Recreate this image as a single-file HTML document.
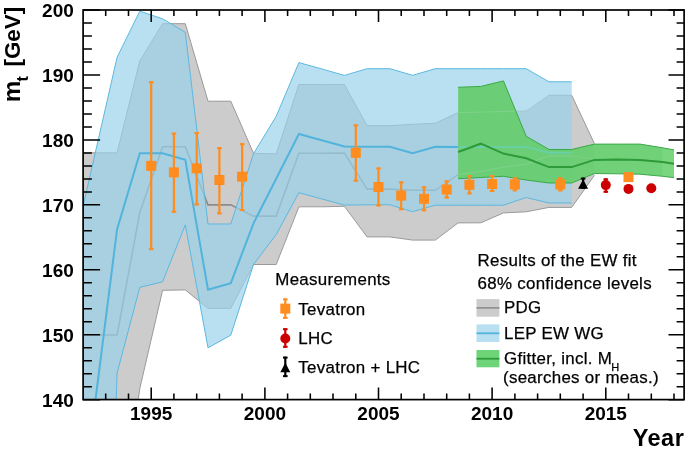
<!DOCTYPE html>
<html><head><meta charset="utf-8"><style>
html,body{margin:0;padding:0;background:#fff;}
svg{display:block;will-change:transform;}
text{font-family:"Liberation Sans",sans-serif;fill:#000;}
.tl{font-size:19px;font-weight:bold;}
.at{font-size:23.5px;font-weight:bold;}
.lg{font-size:16.9px;letter-spacing:0.3px;stroke:#000;stroke-width:0.25px;}
</style></head><body>
<svg width="685" height="455" viewBox="0 0 685 455">
<defs><clipPath id="pc"><rect x="83.1" y="10.0" width="601.0" height="389.6"/></clipPath></defs>
<g clip-path="url(#pc)">
<polygon points="48.9,152.8 117.1,152.8 139.8,60.9 162.6,23.7 185.3,23.7 208.0,101.2 230.8,101.2 253.5,153.3 276.2,153.9 298.9,84.6 321.7,84.6 344.4,84.6 367.1,125.7 389.9,125.7 412.6,124.3 435.3,123.3 458.1,112.6 480.8,112.1 503.5,111.5 526.2,111.0 549.0,95.2 571.7,95.2 594.4,143.6 594.4,175.4 571.7,207.4 549.0,207.4 526.2,211.8 503.5,212.9 480.8,222.8 458.1,222.9 435.3,240.1 412.6,240.1 389.9,236.9 367.1,236.9 344.4,206.3 321.7,206.8 298.9,206.8 276.2,264.5 253.5,264.5 230.8,308.4 208.0,308.4 185.3,289.9 162.6,290.3 139.8,388.5 117.1,548.5 48.9,548.5" fill="#cccccc" stroke="none"/>
<polyline points="48.9,152.8 117.1,152.8 139.8,60.9 162.6,23.7 185.3,23.7 208.0,101.2 230.8,101.2 253.5,153.3 276.2,153.9 298.9,84.6 321.7,84.6 344.4,84.6 367.1,125.7 389.9,125.7 412.6,124.3 435.3,123.3 458.1,112.6 480.8,112.1 503.5,111.5 526.2,111.0 549.0,95.2 571.7,95.2 594.4,143.6" fill="none" stroke="#9a9a9a" stroke-width="1"/>
<polyline points="594.4,175.4 571.7,207.4 549.0,207.4 526.2,211.8 503.5,212.9 480.8,222.8 458.1,222.9 435.3,240.1 412.6,240.1 389.9,236.9 367.1,236.9 344.4,206.3 321.7,206.8 298.9,206.8 276.2,264.5 253.5,264.5 230.8,308.4 208.0,308.4 185.3,289.9 162.6,290.3 139.8,388.5 117.1,548.5 48.9,548.5" fill="none" stroke="#9a9a9a" stroke-width="1"/>
<polyline points="48.9,335.0 117.1,335.0 139.8,212.5 162.6,146.7 185.3,146.7 208.0,204.9 230.8,204.9 253.5,216.1 276.2,216.1 298.9,153.3 321.7,153.3 344.4,153.1 367.1,189.1 389.9,189.1 412.6,190.3 435.3,190.3 458.1,174.7 480.8,171.5 503.5,167.1 526.2,164.1 549.0,155.8 571.7,155.8 594.4,159.1" fill="none" stroke="#8c8c8c" stroke-width="1.6"/>
<polygon points="71.6,256.5 117.1,57.2 139.8,11.2 162.6,18.8 185.3,32.3 208.0,224.0 230.8,224.0 253.5,153.7 276.2,116.3 298.9,62.6 321.7,68.9 344.4,75.4 367.1,68.7 389.9,68.7 412.6,75.3 435.3,68.7 458.1,68.7 480.8,68.7 503.5,68.7 526.2,68.7 549.0,81.8 571.7,81.8 571.7,203.0 549.0,203.0 526.2,197.5 503.5,205.2 480.8,205.2 458.1,205.2 435.3,205.2 412.6,211.7 389.9,204.8 367.1,204.8 344.4,205.1 321.7,198.9 298.9,192.7 276.2,234.5 253.5,264.5 230.8,335.2 208.0,347.8 185.3,224.9 162.6,281.8 139.8,287.3 117.1,373.0 113.7,480.5 71.6,480.5" fill="rgb(152,210,233)" fill-opacity="0.69" stroke="none"/>
<polyline points="71.6,256.5 117.1,57.2 139.8,11.2 162.6,18.8 185.3,32.3 208.0,224.0 230.8,224.0 253.5,153.7 276.2,116.3 298.9,62.6 321.7,68.9 344.4,75.4 367.1,68.7 389.9,68.7 412.6,75.3 435.3,68.7 458.1,68.7 480.8,68.7 503.5,68.7 526.2,68.7 549.0,81.8 571.7,81.8" fill="none" stroke="#5cb8e0" stroke-width="1"/>
<polyline points="571.7,203.0 549.0,203.0 526.2,197.5 503.5,205.2 480.8,205.2 458.1,205.2 435.3,205.2 412.6,211.7 389.9,204.8 367.1,204.8 344.4,205.1 321.7,198.9 298.9,192.7 276.2,234.5 253.5,264.5 230.8,335.2 208.0,347.8 185.3,224.9 162.6,281.8 139.8,287.3 117.1,373.0 113.7,480.5 71.6,480.5" fill="none" stroke="#5cb8e0" stroke-width="1"/>
<polyline points="94.4,408.5 117.1,229.1 139.8,153.3 162.6,153.3 185.3,159.8 208.0,289.7 230.8,283.1 253.5,223.3 276.2,178.7 298.9,134.0 321.7,140.2 344.4,146.5 367.1,146.8 389.9,146.8 412.6,153.3 435.3,146.8 458.1,146.9 480.8,146.9 503.5,146.9 526.2,146.9 549.0,152.8 571.7,152.8" fill="none" stroke="#52b3dc" stroke-width="2"/>
<polygon points="458.1,87.3 480.8,86.4 503.5,80.9 526.2,136.3 549.0,149.5 571.7,149.5 594.4,144.1 617.2,144.1 639.9,144.1 662.6,147.8 663.8,148.0 663.8,176.4 662.6,176.3 639.9,174.2 617.2,173.8 594.4,173.5 571.7,183.0 549.0,183.0 526.2,180.0 503.5,176.3 480.8,177.5 458.1,178.7" fill="rgb(102,206,111)" fill-opacity="0.93" stroke="none"/>
<polygon points="662.6,147.8 674.0,149.9 674.0,177.7 662.6,176.3" fill="#7ad67f" stroke="none"/>
<polyline points="458.1,146.9 480.8,146.9 503.5,146.9 526.2,146.9 549.0,152.8 571.7,152.8" fill="none" stroke="#6cd2c4" stroke-opacity="0.6" stroke-width="2"/>
<polyline points="458.1,174.7 480.8,171.5 503.5,167.1 526.2,164.1 549.0,155.8 571.7,155.8 594.4,159.1" fill="none" stroke="#ffffff" stroke-opacity="0.13" stroke-width="1.2"/>
<polyline points="458.1,112.6 480.8,112.1 503.5,111.5 526.2,111.0 549.0,95.2" fill="none" stroke="#ffffff" stroke-opacity="0.13" stroke-width="1"/>
<polyline points="458.1,87.3 480.8,86.4 503.5,80.9 526.2,136.3 549.0,149.5 571.7,149.5 594.4,144.1 617.2,144.1 639.9,144.1 662.6,147.8 674.0,149.9" fill="none" stroke="#3aa846" stroke-width="1"/>
<polyline points="458.1,178.7 480.8,177.5 503.5,176.3 526.2,180.0 549.0,183.0 571.7,183.0 594.4,173.5 617.2,173.8 639.9,174.2 662.6,176.3 674.0,177.7" fill="none" stroke="#3aa846" stroke-width="1"/>
<polyline points="458.1,152.0 480.8,143.7 503.5,153.6 526.2,158.3 549.0,167.1 571.7,167.1 594.4,159.9 617.2,159.6 639.9,159.9 662.6,162.1 674.0,163.8" fill="none" stroke="#2e9a38" stroke-width="2"/>
</g>
<rect x="150.1" y="81.2" width="2.2" height="168.9" fill="#ff8c1e"/><rect x="148.9" y="81.2" width="4.6" height="2" fill="#ff8c1e"/><rect x="148.9" y="248.1" width="4.6" height="2" fill="#ff8c1e"/>
<rect x="146.2" y="160.9" width="10" height="10" fill="#ff8c1e"/>
<rect x="172.8" y="132.6" width="2.2" height="80.1" fill="#ff8c1e"/><rect x="171.6" y="132.6" width="4.6" height="2" fill="#ff8c1e"/><rect x="171.6" y="210.7" width="4.6" height="2" fill="#ff8c1e"/>
<rect x="168.9" y="167.4" width="10" height="10" fill="#ff8c1e"/>
<rect x="195.6" y="132.1" width="2.2" height="73.3" fill="#ff8c1e"/><rect x="194.4" y="132.1" width="4.6" height="2" fill="#ff8c1e"/><rect x="194.4" y="203.4" width="4.6" height="2" fill="#ff8c1e"/>
<rect x="191.7" y="163.4" width="10" height="10" fill="#ff8c1e"/>
<rect x="218.3" y="147.1" width="2.2" height="67.2" fill="#ff8c1e"/><rect x="217.1" y="147.1" width="4.6" height="2" fill="#ff8c1e"/><rect x="217.1" y="212.3" width="4.6" height="2" fill="#ff8c1e"/>
<rect x="214.4" y="175.0" width="10" height="10" fill="#ff8c1e"/>
<rect x="241.0" y="143.1" width="2.2" height="67.9" fill="#ff8c1e"/><rect x="239.8" y="143.1" width="4.6" height="2" fill="#ff8c1e"/><rect x="239.8" y="209.0" width="4.6" height="2" fill="#ff8c1e"/>
<rect x="237.1" y="171.7" width="10" height="10" fill="#ff8c1e"/>
<rect x="354.7" y="124.3" width="2.2" height="57.3" fill="#ff8c1e"/><rect x="353.5" y="124.3" width="4.6" height="2" fill="#ff8c1e"/><rect x="353.5" y="179.6" width="4.6" height="2" fill="#ff8c1e"/>
<rect x="350.8" y="147.8" width="10" height="10" fill="#ff8c1e"/>
<rect x="377.4" y="167.5" width="2.2" height="38.9" fill="#ff8c1e"/><rect x="376.2" y="167.5" width="4.6" height="2" fill="#ff8c1e"/><rect x="376.2" y="204.4" width="4.6" height="2" fill="#ff8c1e"/>
<rect x="373.5" y="182.0" width="10" height="10" fill="#ff8c1e"/>
<rect x="400.1" y="181.4" width="2.2" height="28.8" fill="#ff8c1e"/><rect x="398.9" y="181.4" width="4.6" height="2" fill="#ff8c1e"/><rect x="398.9" y="208.2" width="4.6" height="2" fill="#ff8c1e"/>
<rect x="396.2" y="190.6" width="10" height="10" fill="#ff8c1e"/>
<rect x="422.9" y="186.4" width="2.2" height="24.9" fill="#ff8c1e"/><rect x="421.7" y="186.4" width="4.6" height="2" fill="#ff8c1e"/><rect x="421.7" y="209.3" width="4.6" height="2" fill="#ff8c1e"/>
<rect x="419.0" y="193.8" width="10" height="10" fill="#ff8c1e"/>
<rect x="445.6" y="180.4" width="2.2" height="18.1" fill="#ff8c1e"/><rect x="444.4" y="180.4" width="4.6" height="2" fill="#ff8c1e"/><rect x="444.4" y="196.5" width="4.6" height="2" fill="#ff8c1e"/>
<rect x="441.7" y="184.5" width="10" height="10" fill="#ff8c1e"/>
<rect x="468.3" y="175.0" width="2.2" height="19.4" fill="#ff8c1e"/><rect x="467.1" y="175.0" width="4.6" height="2" fill="#ff8c1e"/><rect x="467.1" y="192.4" width="4.6" height="2" fill="#ff8c1e"/>
<rect x="464.4" y="179.8" width="10" height="10" fill="#ff8c1e"/>
<rect x="491.0" y="175.0" width="2.2" height="17.0" fill="#ff8c1e"/><rect x="489.8" y="175.0" width="4.6" height="2" fill="#ff8c1e"/><rect x="489.8" y="190.0" width="4.6" height="2" fill="#ff8c1e"/>
<rect x="487.1" y="179.0" width="10" height="10" fill="#ff8c1e"/>
<rect x="513.8" y="177.3" width="2.2" height="14.0" fill="#ff8c1e"/><rect x="512.6" y="177.3" width="4.6" height="2" fill="#ff8c1e"/><rect x="512.6" y="189.3" width="4.6" height="2" fill="#ff8c1e"/>
<rect x="509.9" y="179.4" width="10" height="10" fill="#ff8c1e"/>
<rect x="559.2" y="177.3" width="2.2" height="14.0" fill="#ff8c1e"/><rect x="558.0" y="177.3" width="4.6" height="2" fill="#ff8c1e"/><rect x="558.0" y="189.3" width="4.6" height="2" fill="#ff8c1e"/>
<rect x="555.3" y="179.4" width="10" height="10" fill="#ff8c1e"/>
<rect x="627.4" y="174.4" width="2.2" height="5.6" fill="#ff8c1e"/><rect x="626.2" y="174.4" width="4.6" height="2" fill="#ff8c1e"/><rect x="626.2" y="178.0" width="4.6" height="2" fill="#ff8c1e"/>
<rect x="623.5" y="172.1" width="10" height="10" fill="#ff8c1e"/>
<rect x="604.7" y="178.3" width="2.2" height="14.5" fill="#cc0000"/><rect x="603.5" y="178.3" width="4.6" height="2" fill="#cc0000"/><rect x="603.5" y="190.8" width="4.6" height="2" fill="#cc0000"/>
<circle cx="605.8" cy="185.1" r="5" fill="#cc0000"/>
<rect x="627.4" y="185.4" width="2.2" height="7.2" fill="#cc0000"/><rect x="626.2" y="185.4" width="4.6" height="2" fill="#cc0000"/><rect x="626.2" y="190.6" width="4.6" height="2" fill="#cc0000"/>
<circle cx="628.5" cy="188.9" r="5" fill="#cc0000"/>
<rect x="650.2" y="184.9" width="2.2" height="6.9" fill="#cc0000"/><rect x="649.0" y="184.9" width="4.6" height="2" fill="#cc0000"/><rect x="649.0" y="189.8" width="4.6" height="2" fill="#cc0000"/>
<circle cx="651.3" cy="188.3" r="5" fill="#cc0000"/>
<rect x="582.0" y="177.6" width="2.2" height="11.2" fill="#000"/><rect x="580.8" y="177.6" width="4.6" height="2" fill="#000"/><rect x="580.8" y="186.8" width="4.6" height="2" fill="#000"/>
<polygon points="578.1,188.7 588.1,188.7 583.1,179.2" fill="#000"/>
<path d="M105.7,399.6v-6M105.7,10.0v6M128.5,399.6v-6M128.5,10.0v6M151.2,399.6v-12M151.2,10.0v12M173.9,399.6v-6M173.9,10.0v6M196.7,399.6v-6M196.7,10.0v6M219.4,399.6v-6M219.4,10.0v6M242.1,399.6v-6M242.1,10.0v6M264.9,399.6v-12M264.9,10.0v12M287.6,399.6v-6M287.6,10.0v6M310.3,399.6v-6M310.3,10.0v6M333.0,399.6v-6M333.0,10.0v6M355.8,399.6v-6M355.8,10.0v6M378.5,399.6v-12M378.5,10.0v12M401.2,399.6v-6M401.2,10.0v6M424.0,399.6v-6M424.0,10.0v6M446.7,399.6v-6M446.7,10.0v6M469.4,399.6v-6M469.4,10.0v6M492.1,399.6v-12M492.1,10.0v12M514.9,399.6v-6M514.9,10.0v6M537.6,399.6v-6M537.6,10.0v6M560.3,399.6v-6M560.3,10.0v6M583.1,399.6v-6M583.1,10.0v6M605.8,399.6v-12M605.8,10.0v12M628.5,399.6v-6M628.5,10.0v6M651.3,399.6v-6M651.3,10.0v6M674.0,399.6v-6M674.0,10.0v6M83.1,399.7h17M684.1,399.7h-15.6M83.1,386.7h8.8M684.1,386.7h-7.5M83.1,373.7h8.8M684.1,373.7h-7.5M83.1,360.7h8.8M684.1,360.7h-7.5M83.1,347.7h8.8M684.1,347.7h-7.5M83.1,334.8h17M684.1,334.8h-15.6M83.1,321.8h8.8M684.1,321.8h-7.5M83.1,308.8h8.8M684.1,308.8h-7.5M83.1,295.8h8.8M684.1,295.8h-7.5M83.1,282.8h8.8M684.1,282.8h-7.5M83.1,269.8h17M684.1,269.8h-15.6M83.1,256.8h8.8M684.1,256.8h-7.5M83.1,243.8h8.8M684.1,243.8h-7.5M83.1,230.8h8.8M684.1,230.8h-7.5M83.1,217.8h8.8M684.1,217.8h-7.5M83.1,204.8h17M684.1,204.8h-15.6M83.1,191.9h8.8M684.1,191.9h-7.5M83.1,178.9h8.8M684.1,178.9h-7.5M83.1,165.9h8.8M684.1,165.9h-7.5M83.1,152.9h8.8M684.1,152.9h-7.5M83.1,139.9h17M684.1,139.9h-15.6M83.1,126.9h8.8M684.1,126.9h-7.5M83.1,113.9h8.8M684.1,113.9h-7.5M83.1,100.9h8.8M684.1,100.9h-7.5M83.1,87.9h8.8M684.1,87.9h-7.5M83.1,75.0h17M684.1,75.0h-15.6M83.1,62.0h8.8M684.1,62.0h-7.5M83.1,49.0h8.8M684.1,49.0h-7.5M83.1,36.0h8.8M684.1,36.0h-7.5M83.1,23.0h8.8M684.1,23.0h-7.5M83.1,10.0h17M684.1,10.0h-15.6" stroke="#000" stroke-width="1.55" fill="none"/>
<rect x="83.1" y="10.0" width="601.0" height="389.6" fill="none" stroke="#000" stroke-width="1.7"/>
<text x="73.8" y="406.9" text-anchor="end" class="tl">140</text>
<text x="73.8" y="341.9" text-anchor="end" class="tl">150</text>
<text x="73.8" y="277.0" text-anchor="end" class="tl">160</text>
<text x="73.8" y="212.0" text-anchor="end" class="tl">170</text>
<text x="73.8" y="147.1" text-anchor="end" class="tl">180</text>
<text x="73.8" y="82.2" text-anchor="end" class="tl">190</text>
<text x="73.8" y="17.2" text-anchor="end" class="tl">200</text>
<text x="151.2" y="420.4" text-anchor="middle" class="tl">1995</text>
<text x="264.9" y="420.4" text-anchor="middle" class="tl">2000</text>
<text x="378.5" y="420.4" text-anchor="middle" class="tl">2005</text>
<text x="492.1" y="420.4" text-anchor="middle" class="tl">2010</text>
<text x="605.8" y="420.4" text-anchor="middle" class="tl">2015</text>
<text x="684.3" y="445.8" text-anchor="end" class="at" style="letter-spacing:0.5px">Year</text>
<text transform="translate(20.2,102.3) rotate(-90)" class="at" style="font-size:24.3px">m</text>
<text transform="translate(27.6,81.6) rotate(-90)" class="at" style="font-size:16px">t</text>
<text transform="translate(20.2,66.5) rotate(-90)" class="at" style="font-size:22.4px">[GeV]</text>
<text x="275.3" y="284.9" class="lg">Measurements</text>
<rect x="284.2" y="298.4" width="2.2" height="20.5" fill="#ff8c1e"/><rect x="283.0" y="298.4" width="4.6" height="2" fill="#ff8c1e"/><rect x="283.0" y="316.9" width="4.6" height="2" fill="#ff8c1e"/>
<rect x="280.3" y="303.6" width="10" height="10" fill="#ff8c1e"/>
<rect x="284.2" y="328.2" width="2.2" height="19.6" fill="#cc0000"/><rect x="283.0" y="328.2" width="4.6" height="2" fill="#cc0000"/><rect x="283.0" y="345.8" width="4.6" height="2" fill="#cc0000"/>
<circle cx="285.3" cy="338.5" r="5" fill="#cc0000"/>
<rect x="284.2" y="356.6" width="2.2" height="20.5" fill="#000"/><rect x="283.0" y="356.6" width="4.6" height="2" fill="#000"/><rect x="283.0" y="375.1" width="4.6" height="2" fill="#000"/>
<polygon points="280.3,372.2 290.3,372.2 285.3,362.7" fill="#000"/>
<text x="298.3" y="314.9" class="lg">Tevatron</text>
<text x="298.3" y="344.1" class="lg">LHC</text>
<text x="298.3" y="373.2" class="lg">Tevatron + LHC</text>
<text x="477.5" y="266.4" class="lg">Results of the EW fit</text>
<text x="477.5" y="288.5" class="lg">68% confidence levels</text>
<rect x="476.5" y="299.1" width="22.9" height="17.6" fill="#cccccc"/><rect x="476.5" y="307.1" width="22.9" height="1.6" fill="#8c8c8c"/>
<rect x="476.5" y="324.4" width="22.9" height="17.6" fill="#b8e0f0"/><rect x="476.5" y="332.4" width="22.9" height="1.8" fill="#52b3dc"/>
<rect x="476.5" y="350.0" width="22.9" height="17.3" fill="#6ed478"/><rect x="476.5" y="357.8" width="22.9" height="1.8" fill="#2e9a38"/>
<text x="504.0" y="313.1" class="lg">PDG</text>
<text x="504.0" y="338.5" class="lg">LEP EW WG</text>
<text x="504.0" y="363.9" class="lg">Gfitter, incl. M<tspan font-size="11" dx="-0.7" dy="6.9">H</tspan></text>
<text x="503.0" y="382.6" class="lg">(searches or meas.)</text>
</svg>
</body></html>
